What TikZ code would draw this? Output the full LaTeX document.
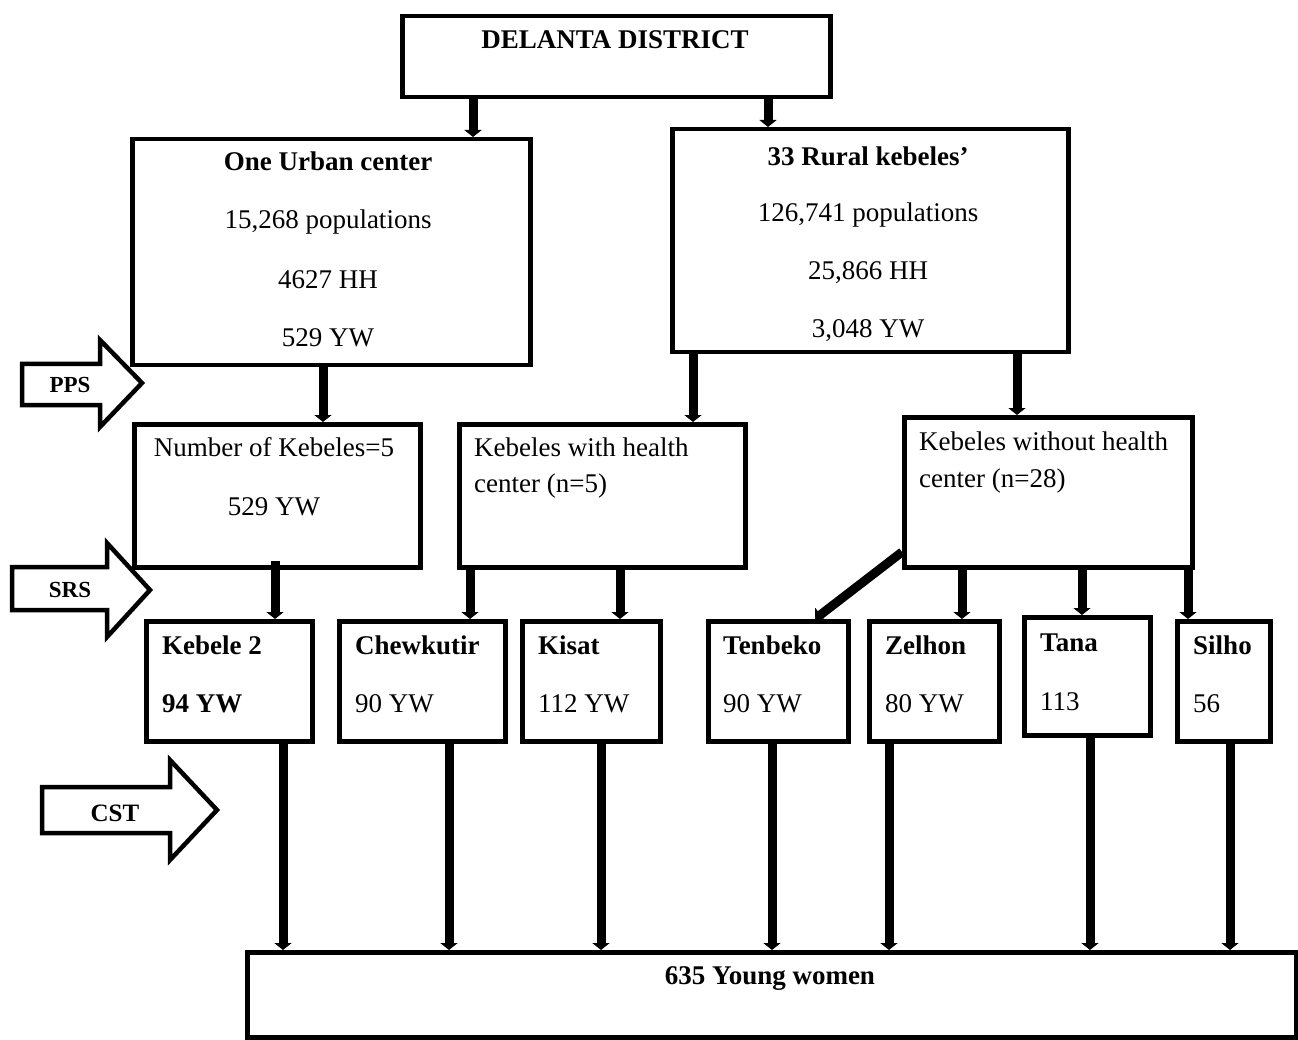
\documentclass[tikz,border=0pt]{standalone}
\usepackage{fontspec}
\setmainfont{Liberation Serif}
\usetikzlibrary{arrows.meta}
\begin{document}
\begin{tikzpicture}[x=1pt,y=-1pt]
\tikzstyle{caixa}=[draw, line width=4.5pt, anchor=north west, inner sep=0pt]
\tikzstyle{liga}=[line width=9pt, -{Triangle[length=7pt,width=17pt]}]
\tikzstyle{txt}=[inner sep=0pt, anchor=base, font=\fontsize{27}{32}\selectfont]
\tikzstyle{btxt}=[txt, font=\fontsize{27}{32}\selectfont\bfseries]
\tikzstyle{seta}=[draw, line width=4.5pt, fill=white]
\useasboundingbox (0,0) rectangle (1298,1040);
% caixas
\node[caixa, minimum width=428pt, minimum height=81pt] (district) at (400,14) {};
\node[caixa, minimum width=398pt, minimum height=226pt] (urban) at (130,137) {};
\node[caixa, minimum width=396pt, minimum height=223pt] (rural) at (670,127) {};
\node[caixa, minimum width=286pt, minimum height=143pt] (numk) at (132,422) {};
\node[caixa, minimum width=286pt, minimum height=143pt] (withhc) at (457,422) {};
\node[caixa, minimum width=288pt, minimum height=150pt] (withouthc) at (902,415) {};
\node[caixa, minimum width=166pt, minimum height=120pt] (keb2) at (144,619) {};
\node[caixa, minimum width=166pt, minimum height=120pt] (chew) at (337,619) {};
\node[caixa, minimum width=138pt, minimum height=120pt] (kisat) at (520,619) {};
\node[caixa, minimum width=140pt, minimum height=120pt] (tenb) at (706,619) {};
\node[caixa, minimum width=130pt, minimum height=120pt] (zelh) at (867,619) {};
\node[caixa, minimum width=126pt, minimum height=118pt] (tana) at (1022,615) {};
\node[caixa, minimum width=93pt, minimum height=120pt] (silho) at (1175,619) {};
\node[caixa, minimum width=1049pt, minimum height=85pt] (young) at (245,950) {};
% textos
\node[btxt] (tdist) at (615,49) {DELANTA DISTRICT};
\node[btxt] (tu1) at (328,171) {One Urban center};
\node[txt] (tu2) at (328,229) {15,268 populations};
\node[txt] (tu3) at (328,289) {4627 HH};
\node[txt] (tu4) at (328,347) {529 YW};
\node[btxt] (tr1) at (868,166) {33 Rural kebeles'};
\node[txt] (tr2) at (868,222) {126,741 populations};
\node[txt] (tr3) at (868,280) {25,866 HH};
\node[txt] (tr4) at (868,338) {3,048 YW};
\node[txt] (tn1) at (274,456) {Number of Kebeles=5};
\node[txt] (tn2) at (274,515) {529 YW};
\node[txt, anchor=base west] (tw1) at (474,456) {Kebeles with health};
\node[txt, anchor=base west] (tw2) at (474,492) {center (n=5)};
\node[txt, anchor=base west] (to1) at (919,450) {Kebeles without health};
\node[txt, anchor=base west] (to2) at (919,487) {center (n=28)};
\node[btxt, anchor=base west] (tk1) at (162,654) {Kebele 2};
\node[btxt, anchor=base west] (tk2) at (162,712) {94 YW};
\node[btxt, anchor=base west] (tc1) at (355,654) {Chewkutir};
\node[txt, anchor=base west] (tc2) at (355,712) {90 YW};
\node[btxt, anchor=base west] (ts1) at (538,654) {Kisat};
\node[txt, anchor=base west] (ts2) at (538,712) {112 YW};
\node[btxt, anchor=base west] (tt1) at (723,654) {Tenbeko};
\node[txt, anchor=base west] (tt2) at (723,712) {90 YW};
\node[btxt, anchor=base west] (tz1) at (885,654) {Zelhon};
\node[txt, anchor=base west] (tz2) at (885,712) {80 YW};
\node[btxt, anchor=base west] (ta1) at (1040,651) {Tana};
\node[txt, anchor=base west] (ta2) at (1040,710) {113};
\node[btxt, anchor=base west] (th1) at (1193,654) {Silho};
\node[txt, anchor=base west] (th2) at (1193,712) {56};
\node[btxt] (ty) at (770,984) {635 Young women};
% ligacoes
\draw[liga] (473,0 |- district.south) -- (473,0 |- urban.north);
\draw[liga] (768,0 |- district.south) -- (768,0 |- rural.north);
\draw[liga] (323,0 |- urban.south) -- (323,0 |- numk.north);
\draw[liga] (693,0 |- rural.south) -- (693,0 |- withhc.north);
\draw[liga] (1017,0 |- rural.south) -- (1017,0 |- withouthc.north);
\draw[liga] (275,0 |- numk.south) ++(0,-9) -- (275,0 |- keb2.north);
\draw[liga] (470,0 |- withhc.south) -- (470,0 |- chew.north);
\draw[liga] (620,0 |- withhc.south) -- (620,0 |- kisat.north);
\draw[liga] (withouthc.west |- 0,552) -- (815,0 |- tenb.north);
\draw[liga] (962,0 |- withouthc.south) -- (962,0 |- zelh.north);
\draw[liga] (1082,0 |- withouthc.south) -- (1082,0 |- tana.north);
\draw[liga] (1188,0 |- withouthc.south) -- (1188,0 |- silho.north);
\draw[liga] (283,0 |- keb2.south) -- (283,0 |- young.north);
\draw[liga] (449,0 |- chew.south) -- (449,0 |- young.north);
\draw[liga] (601,0 |- kisat.south) -- (601,0 |- young.north);
\draw[liga] (772,0 |- tenb.south) -- (772,0 |- young.north);
\draw[liga] (889,0 |- zelh.south) -- (889,0 |- young.north);
\draw[liga] (1090,0 |- tana.south) -- (1090,0 |- young.north);
\draw[liga] (1230,0 |- silho.south) -- (1230,0 |- young.north);
% setas grandes
\draw[seta] (22,364) -- (100,364) -- (100,340) -- (142,383) -- (100,427) -- (100,405) -- (22,405) -- cycle;
\node[btxt, font=\fontsize{23}{28}\selectfont\bfseries] (pps) at (70,392) {PPS};
\draw[seta] (12,567) -- (107,567) -- (107,543) -- (150,590) -- (107,637) -- (107,610) -- (12,610) -- cycle;
\node[btxt, font=\fontsize{23}{28}\selectfont\bfseries] (srs) at (70,597) {SRS};
\draw[seta] (42,787) -- (170,787) -- (170,760) -- (217,810) -- (170,860) -- (170,833) -- (42,833) -- cycle;
\node[btxt, font=\fontsize{25}{30}\selectfont\bfseries] (cst) at (115,821) {CST};
\end{tikzpicture}
\end{document}
